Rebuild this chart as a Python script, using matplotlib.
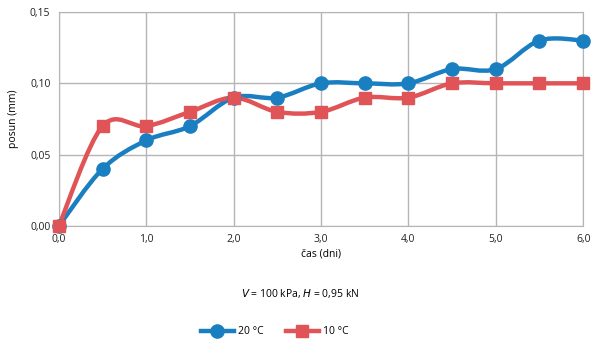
import numpy as np
import matplotlib.pyplot as plt
from matplotlib.path import Path
from matplotlib.patches import PathPatch
from matplotlib.lines import Line2D

plt.rcParams['font.family'] = ['Open Sans', 'DejaVu Sans']

# data
cas = [0.0, 0.5, 1.0, 1.5, 2.0, 2.5, 3.0, 3.5, 4.0, 4.5, 5.0, 5.5, 6.0]
posun_20 = [0.0, 0.04, 0.06, 0.07, 0.09, 0.09, 0.10, 0.10, 0.10, 0.11, 0.11, 0.13, 0.13]
posun_10 = [0.0, 0.07, 0.07, 0.08, 0.09, 0.08, 0.08, 0.09, 0.09, 0.10, 0.10, 0.10, 0.10]
xticks = [0, 1, 2, 3, 4, 5, 6]
yticks = [0.0, 0.05, 0.10, 0.15]

blue = '#1a7fc1'
red = '#e05457'


def smooth_path(x, y):
    # Excel-like smoothed line: cubic bezier with catmull-rom control points
    x = np.asarray(x); y = np.asarray(y)
    p = np.column_stack([x, y])
    verts = [p[0]]
    codes = [Path.MOVETO]
    n = len(p)
    for i in range(n - 1):
        p0 = p[i - 1] if i > 0 else p[i]
        p3 = p[i + 2] if i + 2 < n else p[i + 1]
        c1 = p[i] + (p[i + 1] - p0) / 6
        c2 = p[i + 1] - (p3 - p[i]) / 6
        verts += [c1, c2, p[i + 1]]
        codes += [Path.CURVE4] * 3
    return Path(verts, codes)


fig = plt.figure(figsize=(6, 3.42), dpi=100)
ax = fig.add_axes([0.098, 0.339, 0.874, 0.626])

for yy, col, mk in [(posun_20, blue, 'o'), (posun_10, red, 's')]:
    ax.add_patch(PathPatch(smooth_path(cas, yy), facecolor='none', edgecolor=col,
                           lw=3.2, zorder=3, capstyle='round'))
    ax.plot(cas, yy, linestyle='none', marker=mk, ms=9.5 if mk == 'o' else 9,
            color=col, zorder=4, clip_on=False)

ax.set_xlim(0, 6)
ax.set_ylim(0, 0.15)
ax.set_xticks(xticks)
ax.set_yticks(yticks)
ax.set_xticklabels([('%.1f' % v).replace('.', ',') for v in xticks])
ax.set_yticklabels([('%.2f' % v).replace('.', ',') for v in yticks])
ax.tick_params(length=0, labelsize=7.5, pad=6, colors='#222222')
ax.grid(True, color='#b5b5b5', lw=1)
ax.set_axisbelow(True)
for s in ax.spines.values():
    s.set_color('#b5b5b5')

ax.set_xlabel('čas (dni)', fontsize=7.5, labelpad=2)
ax.set_ylabel('posun (mm)', fontsize=7.5, labelpad=8)

fig.text(0.5, 0.143, '$\\it{V}$ = 100 kPa, $\\it{H}$ = 0,95 kN', ha='center', va='center', fontsize=7.5)

handles = [Line2D([], [], color=blue, lw=3.2, marker='o', ms=9.5),
           Line2D([], [], color=red, lw=3.2, marker='s', ms=9)]
fig.legend(handles, ['20 °C', '10 °C'], loc='center', bbox_to_anchor=(0.458, 0.03),
           ncol=2, frameon=False, fontsize=7.5, handlelength=3.2, columnspacing=2.1,
           handletextpad=0.4)

fig.savefig('out.png', dpi=100)
